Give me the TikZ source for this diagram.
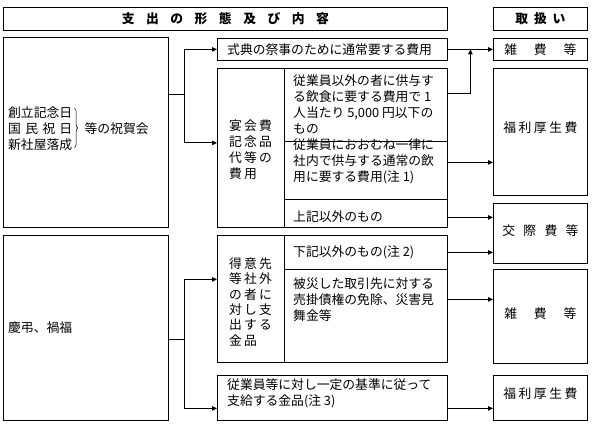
\documentclass[tikz,border=0pt]{standalone}
\usepackage{fontspec}
\setmainfont{Noto Sans CJK JP}
\usepackage{tikz}
\usetikzlibrary{
  arrows.meta,
  positioning,
  calc,
  decorations.pathreplacing
}
\tikzset{
  box/.style={
    draw,
    line width=0.8pt,
    inner sep=0pt,
    anchor=north west
  },
  label text/.style={
    inner sep=0pt,
    anchor=west,
    align=left
  },
  spread/.style={
    inner sep=0pt,
    text width=#1
  },
  link/.style={
    line width=0.8pt
  },
  connection/.style={
    -{Triangle[length=5pt,width=4.5pt]},
    line width=0.8pt
  }
}

\begin{document}
\begin{tikzpicture}[x=1pt,y=-1pt,font=\fontsize{12.8}{16}\selectfont]

  \useasboundingbox (0,0) rectangle (592,425);

  % header row
  \node[box, minimum width=444pt, minimum height=23pt] (head) at (3,7) {};
  \node[box, minimum width=94pt, minimum height=23pt] (headR) at (493,7) {};
  \node[spread=207pt, font=\fontsize{12.8}{16}\selectfont\bfseries] (headtext) at (head.center)
  {支\hfill 出\hfill の\hfill 形\hfill 態\hfill 及\hfill び\hfill 内\hfill 容};
  \node[spread=50pt, font=\fontsize{12.8}{16}\selectfont\bfseries] (headRtext) at (headR.center)
  {取\hfill 扱\hfill い};

  % left column
  \node[box, minimum width=165pt, minimum height=190pt] (celeb) at (3,37) {};
  \node[box, minimum width=165pt, minimum height=185pt] (condol) at (3,235) {};

  \node[label text] (celebL) at ([xshift=5pt,yshift=4pt]celeb.west) {
    創立記念日\\
    \makebox[5em][l]{国\hfill 民\hfill 祝\hfill 日}\\
    新社屋落成
  };
  \draw[decorate, decoration={brace, amplitude=3.5pt}, line width=0.5pt]
  ([xshift=2pt,yshift=-2pt]celebL.north east) --
  ([xshift=2pt,yshift=3pt]celebL.south east);
  \node[label text] (celebR) at ([xshift=12pt]celebL.east) {等の祝賀会};

  \node[label text] (condoltext) at ([xshift=5pt]condol.west) {慶弔、禍福};

  % middle column, upper part
  \node[box, minimum width=230pt, minimum height=22pt] (ceremony) at (217,38) {};
  \node[label text] (ceremonytext) at ([xshift=10pt]ceremony.west) {式典の祭事のために通常要する費用};

  \node[box, minimum width=67pt, minimum height=159pt] (banquet) at (217,68) {};
  \node[box, minimum width=163pt, minimum height=73pt] (banquetA) at (284,68) {};
  \node[box, minimum width=163pt, minimum height=58pt] (banquetB) at (284,141) {};
  \node[box, minimum width=163pt, minimum height=28pt] (banquetC) at (284,199) {};

  \node[label text] (banquettext) at ([xshift=12pt,yshift=-1.5pt]banquet.west) {
    宴\,会\,費\\
    記\,念\,品\\
    代\,等\,の\\
    費\,用
  };
  \node[label text] (banquetAtext) at ([xshift=9pt]banquetA.west) {
    従業員以外の者に供与す\\
    る飲食に要する費用で 1\\
    人当たり 5,000 円以下の\\
    もの
  };
  \node[label text] (banquetBtext) at ([xshift=9pt,yshift=9pt]banquetB.west) {
    従業員におおむね一律に\\
    社内で供与する通常の飲\\
    用に要する費用(注 1)
  };
  \node[label text] (banquetCtext) at ([xshift=9pt,yshift=-3pt]banquetC.west) {上記以外のもの};

  % middle column, lower part
  \node[box, minimum width=67pt, minimum height=127pt] (client) at (217,235) {};
  \node[box, minimum width=163pt, minimum height=34pt] (clientA) at (284,235) {};
  \node[box, minimum width=163pt, minimum height=93pt] (clientB) at (284,269) {};
  \node[box, minimum width=230pt, minimum height=45pt] (staff) at (217,375) {};

  \node[label text, font=\fontsize{12.8}{15.4}\selectfont] (clienttext) at ([xshift=12pt,yshift=-3pt]client.west) {
    得\,意\,先\\
    等\,社\,外\\
    の\,者\,に\\
    対\,し\,支\\
    出\,す\,る\\
    金\,品
  };
  \node[label text] (clientAtext) at ([xshift=9pt]clientA.west) {下記以外のもの(注 2)};
  \node[label text] (clientBtext) at ([xshift=9pt,yshift=16.5pt]clientB.west) {
    被災した取引先に対する\\
    売掛債権の免除、災害見\\
    舞金等
  };
  \node[label text] (stafftext) at ([xshift=10pt,yshift=4.5pt]staff.west) {
    従業員等に対し一定の基準に従って\\
    支給する金品(注 3)
  };

  % right column
  \node[box, minimum width=94pt, minimum height=22pt] (misc1) at (493,38) {};
  \node[box, minimum width=94pt, minimum height=127pt] (welfare1) at (493,68) {};
  \node[box, minimum width=94pt, minimum height=60pt] (social) at (493,203) {};
  \node[box, minimum width=94pt, minimum height=94pt] (misc2) at (493,269) {};
  \node[box, minimum width=94pt, minimum height=45pt] (welfare2) at (493,375) {};

  \node[spread=72pt] (misc1text) at (misc1.center) {雑\hfill 費\hfill 等};
  \node[spread=74pt] (welfare1text) at ([yshift=4pt]welfare1.center) {福\hfill 利\hfill 厚\hfill 生\hfill 費};
  \node[spread=76pt] (socialtext) at ([yshift=3pt]social.center) {交\hfill 際\hfill 費\hfill 等};
  \node[spread=72pt] (misc2text) at ([yshift=3pt]misc2.center) {雑\hfill 費\hfill 等};
  \node[spread=74pt] (welfare2text) at ([yshift=4pt]welfare2.center) {福\hfill 利\hfill 厚\hfill 生\hfill 費};

  % connectors
  \coordinate (forkA) at (184,94);
  \coordinate (forkB) at (184,339);

  \draw[link] (celeb.east |- forkA) -- (forkA);
  \draw[connection] (forkA) |- (ceremony.west);
  \draw[connection] (forkA) |- ([yshift=5pt]banquet.west);

  \draw[connection] (ceremony.east) -- (misc1.west);
  \draw[connection]
  ([yshift=11pt]banquetA.east) -|
  ($(ceremony.east)!0.5!(misc1.west)$);
  \draw[connection]
  ([yshift=8pt]banquetB.east) --
  ([yshift=8pt]banquetB.east -| welfare1.west);
  \draw[connection]
  ([yshift=-4pt]banquetC.east) --
  ([yshift=-4pt]banquetC.east -| social.west);

  \draw[link] (condol.east |- forkB) -- (forkB);
  \draw[connection] (forkB) |- ([yshift=19.5pt]client.west);
  \draw[connection] (forkB) |- ([yshift=-10.5pt]staff.west);

  \draw[connection] (clientA.east) -- (clientA.east -| social.west);
  \draw[connection]
  ([yshift=16.5pt]clientB.east) --
  ([yshift=16.5pt]clientB.east -| misc2.west);
  \draw[connection]
  ([yshift=-10.5pt]staff.east) --
  ([yshift=-10.5pt]staff.east -| welfare2.west);

\end{tikzpicture}
\end{document}
